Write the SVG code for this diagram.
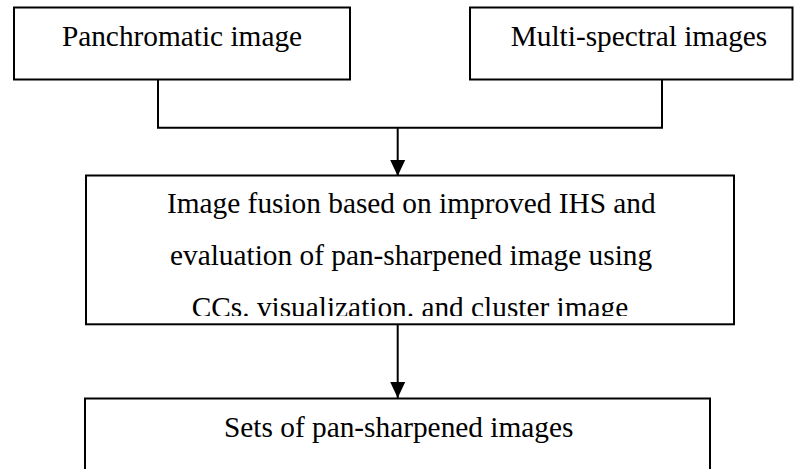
<svg xmlns="http://www.w3.org/2000/svg" width="794" height="469" viewBox="0 0 794 469">
  <style>
    .box { fill: #ffffff; stroke: #000000; stroke-width: 2; }
    .wire { fill: none; stroke: #000000; stroke-width: 2; }
    .label { font-family: 'Liberation Serif', 'Times New Roman', Times, 'DejaVu Serif', serif; font-size: 29.33px; fill: #000000; }
  </style>
  <defs>
    <marker id="arrowhead" markerUnits="userSpaceOnUse" markerWidth="16" markerHeight="17" refX="8" refY="16" orient="0" viewBox="0 0 16 17">
      <polygon points="0.5,0 15.5,0 8,16" fill="#000000"/>
    </marker>
    <clipPath id="fusionClip">
      <rect x="86" y="176" width="648" height="140"/>
    </clipPath>
  </defs>
  <rect width="794" height="469" fill="#ffffff"/>

  <!-- connectors -->
  <g id="connectors">
    <polyline class="wire" points="158,80 158,127.7 662,127.7 662,80"/>
    <line class="wire" x1="397.7" y1="127.7" x2="397.7" y2="176" marker-end="url(#arrowhead)"/>
    <line class="wire" x1="397.7" y1="324.3" x2="397.7" y2="398" marker-end="url(#arrowhead)"/>
  </g>

  <g id="panchromatic">
    <rect class="box" x="14" y="7.5" width="336" height="72"/>
    <text class="label" font-family="Liberation Serif, serif" x="182" y="45.7" text-anchor="middle">Panchromatic image</text>
  </g>

  <g id="multispectral">
    <rect class="box" x="470" y="7.5" width="322.5" height="72"/>
    <text class="label" x="639" y="45.7" text-anchor="middle">Multi-spectral images</text>
  </g>

  <g id="fusion">
    <rect class="box" x="86" y="175.5" width="648" height="148.8"/>
    <g clip-path="url(#fusionClip)">
      <text class="label" x="167" y="213">Image fusion based on improved IHS and</text>
      <text class="label" x="170" y="265">evaluation of pan-sharpened image using</text>
      <text class="label" x="191.7" y="317">CCs. visualization. and cluster image</text>
    </g>
  </g>

  <g id="pansharpened">
    <rect class="box" x="85" y="398.5" width="625" height="90"/>
    <text class="label" x="224" y="437">Sets of pan-sharpened images</text>
  </g>
</svg>
